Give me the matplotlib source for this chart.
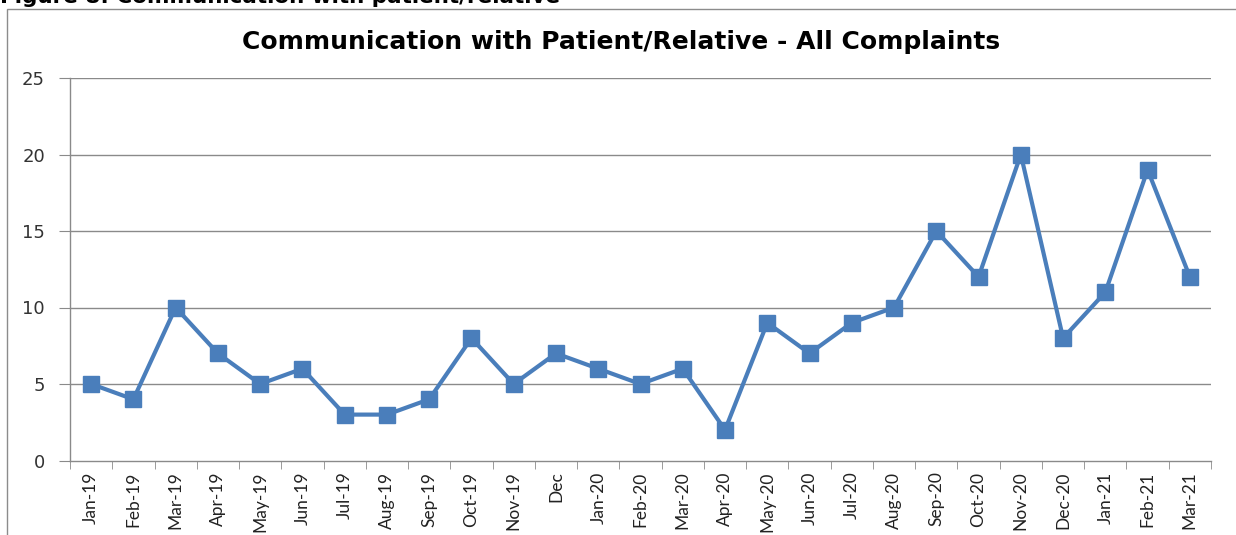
import matplotlib
matplotlib.use("Agg")
import matplotlib.pyplot as plt
from matplotlib.patches import Rectangle
import numpy as np

plt.rcParams['font.family'] = ['Lato', 'DejaVu Sans']

months = ["Jan-19", "Feb-19", "Mar-19", "Apr-19", "May-19", "Jun-19", "Jul-19",
          "Aug-19", "Sep-19", "Oct-19", "Nov-19", "Dec", "Jan-20", "Feb-20",
          "Mar-20", "Apr-20", "May-20", "Jun-20", "Jul-20", "Aug-20", "Sep-20",
          "Oct-20", "Nov-20", "Dec-20", "Jan-21", "Feb-21", "Mar-21"]
complaints = [5, 4, 10, 7, 5, 6, 3, 3, 4, 8, 5, 7, 6, 5, 6, 2, 9, 7, 9, 10,
              15, 12, 20, 8, 11, 19, 12]
y_ticks = [0, 5, 10, 15, 20, 25]

W, H = 1236, 535
fig = plt.figure(figsize=(W / 100, H / 100), dpi=100)

# chart border
fig.patches.append(Rectangle((7 / W, -0.1), 1.2, (H - 9) / H + 0.1,
                             transform=fig.transFigure, fill=False,
                             edgecolor='#8c8c8c', linewidth=1.0))

# caption at top (cut off, as in the source)
fig.text(0.0, 1 - 3 / H, "Figure 8: Communication with patient/relative",
         fontsize=15.5, fontweight='bold', va='baseline', ha='left',
         family='DejaVu Sans')

left, right, top, bottom = 70, 1211, 78, 460.5
ax = fig.add_axes([left / W, 1 - bottom / H, (right - left) / W, (bottom - top) / H])

n = len(months)
x = np.arange(n)
ax.plot(x, complaints, color='#4A7EBB', linewidth=3.0, marker='s',
        markersize=11, markerfacecolor='#4A7EBB', markeredgecolor='#4A7EBB')

ax.set_xlim(-0.5, n - 0.5)
ax.set_ylim(0, 25)
ax.set_yticks(y_ticks)
ax.set_yticklabels([str(v) for v in y_ticks], fontsize=13, color='#333333',
                   family='DejaVu Sans')
for v in y_ticks[1:]:
    ax.axhline(v, color='#8a8a8a', linewidth=1.0, zorder=0)

ax.set_xticks(x)
ax.set_xticklabels(months, rotation=90, fontsize=12.5, color='#222222')
ax.set_xticks(np.arange(n + 1) - 0.5, minor=True)
ax.tick_params(axis='x', which='major', length=0, pad=8)
ax.tick_params(axis='x', which='minor', length=6, color='#8a8a8a', direction='out')
ax.tick_params(axis='y', length=8, color='#8a8a8a', direction='out', pad=10)

for s in ['top', 'right']:
    ax.spines[s].set_visible(False)
for s in ['left', 'bottom']:
    ax.spines[s].set_color('#8a8a8a')
    ax.spines[s].set_linewidth(1.0)

fig.text(621 / W, 1 - 42 / H, "Communication with Patient/Relative - All Complaints",
         fontsize=18, fontweight='bold', ha='center', va='center',
         family='DejaVu Sans')

fig.savefig("out.png", dpi=100)
